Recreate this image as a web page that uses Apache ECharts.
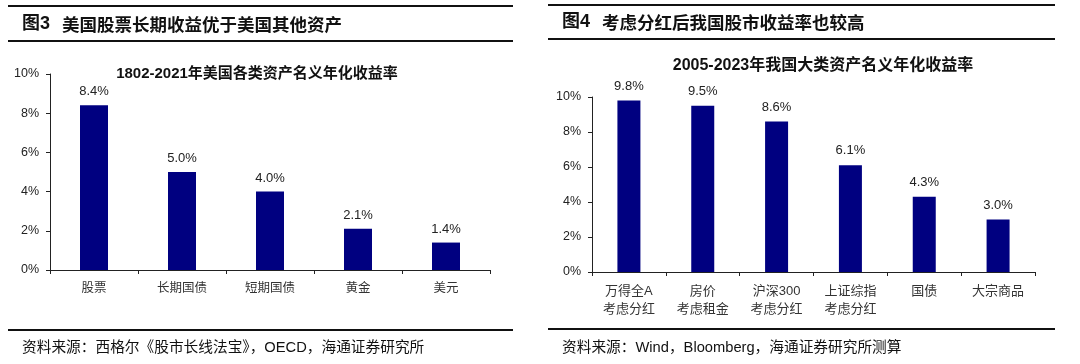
<!DOCTYPE html>
<html>
<head>
<meta charset="utf-8">
<script src="https://cdn.jsdelivr.net/npm/echarts@6/dist/echarts.min.js"></script>
<style>
html,body{margin:0;padding:0;background:#fff;}
#c{width:1080px;height:364px;}
</style>
</head>
<body>
<div id="c"></div>
<script>
// ---- data ----
const leftCategories = ['股票', '长期国债', '短期国债', '黄金', '美元'];
const leftValues = [8.4, 5.0, 4.0, 2.1, 1.4];
const rightCategories = ['万得全A\n考虑分红', '房价\n考虑租金', '沪深300\n考虑分红', '上证综指\n考虑分红', '国债', '大宗商品'];
const rightValues = [9.8, 9.5, 8.6, 6.1, 4.3, 3.0];
const yTicks = [0, 2, 4, 6, 8, 10];

const leftHeader = '美国股票长期收益优于美国其他资产';
const rightHeader = '考虑分红后我国股市收益率也较高';
const leftChartTitle = '1802-2021年美国各类资产名义年化收益率';
const rightChartTitle = '2005-2023年我国大类资产名义年化收益率';
const leftSource = '资料来源：西格尔《股市长线法宝》，OECD，海通证券研究所';
const rightSource = '资料来源：Wind，Bloomberg，海通证券研究所测算';

const BAR = '#000080';
const AX = '#222';
const LATIN = 'Liberation Sans, Arial, sans-serif';
const CJK = 'Liberation Sans, Noto Sans CJK SC, sans-serif';

const chart = echarts.init(document.getElementById('c'), null, {renderer: 'canvas'});

function yAxis(gi) {
  return {
    type: 'value', gridIndex: gi, min: yTicks[0], max: yTicks[yTicks.length - 1], interval: yTicks[1] - yTicks[0],
    axisLine: {show: true, lineStyle: {color: AX, width: 1}},
    axisTick: {show: true, length: 4, lineStyle: {color: AX}},
    splitLine: {show: false},
    axisLabel: {formatter: '{value}%', fontFamily: LATIN, fontSize: 12.5, color: '#222', margin: 11}
  };
}
function xAxis(gi, cats, fs) {
  return {
    type: 'category', gridIndex: gi, data: cats,
    axisLine: {show: true, lineStyle: {color: AX, width: 1}},
    axisTick: {show: true, length: 4, alignWithLabel: false, lineStyle: {color: AX}},
    axisLabel: {fontFamily: CJK, fontSize: fs, color: '#333', margin: 10, lineHeight: 18, interval: 0}
  };
}
function bars(i, vals, bw, dist) {
  return {
    type: 'bar', xAxisIndex: i, yAxisIndex: i, data: vals, barWidth: bw,
    itemStyle: {color: BAR},
    label: {show: true, position: 'top', distance: dist, formatter: p => p.value.toFixed(1) + '%',
      fontFamily: LATIN, fontSize: 13, color: '#222'}
  };
}
function rule(x1, x2, y) {
  return {type: 'line', shape: {x1: x1, y1: y, x2: x2, y2: y}, style: {stroke: '#111', lineWidth: 2}, silent: true};
}
function txt(x, y, s, font, fs, weight, align) {
  return {type: 'text', x: x, y: y, silent: true,
    style: {text: s, fontFamily: font, fontSize: fs, fontWeight: weight || 'normal', fill: '#111',
      textAlign: align || 'left', textVerticalAlign: 'middle'}};
}

chart.setOption({
  backgroundColor: '#fff',
  animation: false,
  grid: [
    {left: 50, right: 590, top: 74, bottom: 94},
    {left: 592, right: 45, top: 97, bottom: 92}
  ],
  xAxis: [xAxis(0, leftCategories, 12.5), xAxis(1, rightCategories, 13)],
  yAxis: [yAxis(0), yAxis(1)],
  series: [bars(0, leftValues, 28, 7), bars(1, rightValues, 23, 8)],
  graphic: [
    rule(8, 513, 6), rule(8, 513, 41), rule(8, 513, 330),
    rule(548, 1055, 5), rule(548, 1055, 39), rule(548, 1055, 329),
    txt(22, 24, '图3', CJK, 18, 'bold'),
    txt(62, 24, leftHeader, 'Noto Sans CJK SC', 17.5, 'bold'),
    txt(562, 22.5, '图4', CJK, 18, 'bold'),
    txt(602, 22.5, rightHeader, 'Noto Sans CJK SC', 17.5, 'bold'),
    txt(257, 74, leftChartTitle, CJK, 15, 'bold', 'center'),
    txt(823, 66, rightChartTitle, CJK, 16, 'bold', 'center'),
    txt(22, 348, leftSource, CJK, 14.7, 'normal'),
    txt(562, 348, rightSource, CJK, 14.7, 'normal')
  ]
});
</script>
</body>
</html>
